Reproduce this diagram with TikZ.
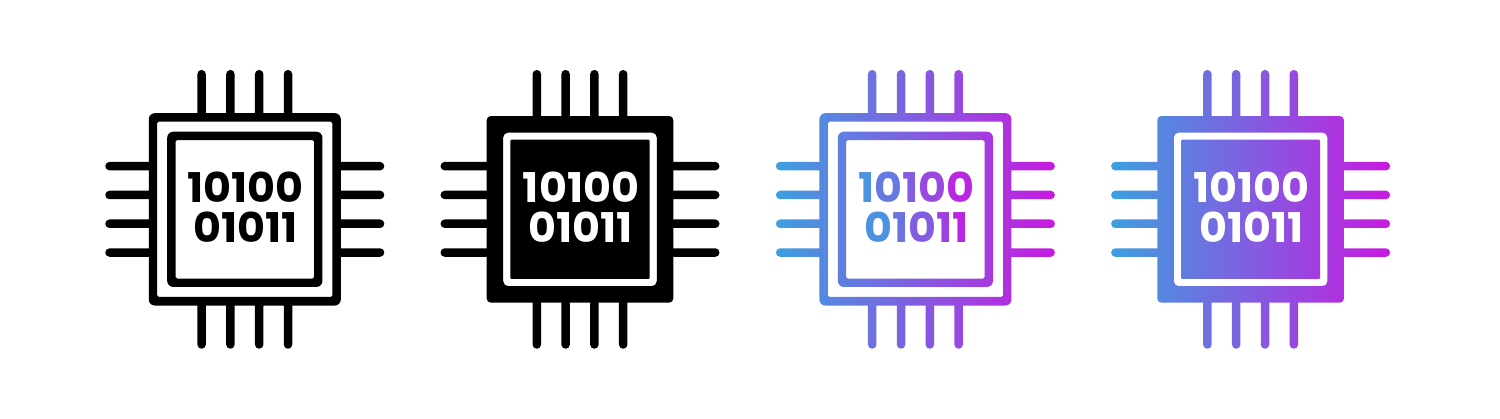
\documentclass[tikz,border=0pt]{standalone}
\usepackage{fontspec}
\setmainfont{Poppins}
\newfontfamily\chipfont{Poppins}[FakeStretch=1.045]
\definecolor{gradA}{HTML}{3D9FE0}
\definecolor{gradB}{HTML}{C71AE0}
\tikzset{
  bits/.style={font=\fontsize{41}{41}\selectfont\bfseries, inner sep=0pt, anchor=base},
  gradfill/.style={left color=gradA, right color=gradB, draw=none},
}
% rounded box, same winding as the pins
\newcommand\rbox[3]{[rounded corners=#2pt] (-#1,-#3) rectangle (#1,#3)}
% hole: opposite winding
\newcommand\rhole[2]{[rounded corners=#2pt] (-#1,#1) rectangle (#1,-#1)}
\newcommand\pinpaths{
  [rounded corners=4.2pt]
  (-47.45,-139.4) rectangle (-38.95,-90)
  (-18.65,-139.4) rectangle (-10.15,-90)
  (10.15,-139.4) rectangle (18.65,-90)
  (38.95,-139.4) rectangle (47.45,-90)
  (-47.45,90) rectangle (-38.95,139.4)
  (-18.65,90) rectangle (-10.15,139.4)
  (10.15,90) rectangle (18.65,139.4)
  (38.95,90) rectangle (47.45,139.4)
  (-139.5,-47.45) rectangle (-90,-38.95)
  (-139.5,-18.65) rectangle (-90,-10.15)
  (-139.5,10.15) rectangle (-90,18.65)
  (-139.5,38.95) rectangle (-90,47.45)
  (90,-47.45) rectangle (139.5,-38.95)
  (90,-18.65) rectangle (139.5,-10.15)
  (90,10.15) rectangle (139.5,18.65)
  (90,38.95) rectangle (139.5,47.45)
}
\newcommand\outlinepaths{
  \pinpaths
  \rbox{96}{6}{96.2}
  \rhole{87.6}{1.5}
  \rbox{77.6}{6}{77.6}
  \rhole{69.2}{1.5}
}
\newcommand\solidpaths{
  \pinpaths
  \rbox{93.3}{4}{93.3}
  \rhole{76.8}{5}
  \rbox{69.6}{1}{69.6}
}
\newcommand\gc[2]{\textcolor{gradB!#1!gradA}{#2}}
\begin{document}
\begin{tikzpicture}[x=1pt,y=-1pt]
\useasboundingbox (0,0) rectangle (1500,419);
\chipfont
% chip 1: outline, black
\begin{scope}[shift={(244.8,209.35)}]
  \fill[black] \outlinepaths;
  \node[bits,text=black] (aone) at (1,-6.6) {10100};
  \node[bits,text=black] (atwo) at (1,33.4) {01011};
\end{scope}
% chip 2: solid, black
\begin{scope}[shift={(580,209.35)}]
  \fill[black] \solidpaths;
  \node[bits,text=white] (bone) at (1,-6.6) {10100};
  \node[bits,text=white] (btwo) at (1,33.4) {01011};
\end{scope}
% chip 3: outline, gradient
\begin{scope}[shift={(915.4,209.35)}]
  \path[gradfill] \outlinepaths;
  \node[bits] (cone) at (1,-6.6) {\gc{10}{1}\gc{28}{0}\gc{50}{1}\gc{65}{0}\gc{90}{0}};
  \node[bits] (ctwo) at (1,33.4) {\gc{10}{0}\gc{33}{1}\gc{50}{0}\gc{72}{1}\gc{92}{1}};
\end{scope}
% chip 4: solid, gradient
\begin{scope}[shift={(1250.6,209.35)}]
  \path[gradfill] \solidpaths;
  \node[bits,text=white] (done) at (1,-6.6) {10100};
  \node[bits,text=white] (dtwo) at (1,33.4) {01011};
\end{scope}
\end{tikzpicture}
\end{document}
